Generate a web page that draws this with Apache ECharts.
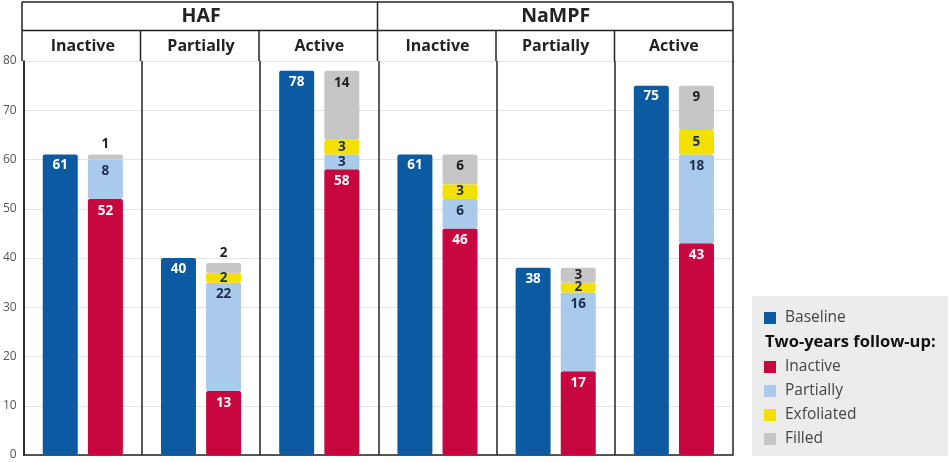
<!DOCTYPE html>
<html><head><meta charset="utf-8">
<script src="https://cdn.jsdelivr.net/npm/echarts@6/dist/echarts.min.js"></script>
<style>html,body{margin:0;padding:0;background:#fff}#c{width:950px;height:462px}</style>
</head><body><div id="c"></div>
<script>
const groups = ['HAF', 'NaMPF'];
const categories = ['Inactive', 'Partially', 'Active', 'Inactive', 'Partially', 'Active'];
const yTicks = [0, 10, 20, 30, 40, 50, 60, 70, 80];
const baseline = [61, 40, 78, 61, 38, 75];
const fuInactive = [52, 13, 58, 46, 17, 43];
const fuPartially = [8, 22, 3, 6, 16, 18];
const fuExfoliated = [0, 2, 3, 3, 2, 5];
const fuFilled = [1, 2, 14, 6, 3, 9];

const FONT = 'Open Sans';
const C = {blue:'#0b5aa2', red:'#c8063f', light:'#a9caeb', yellow:'#f3df00', gray:'#c6c6c6'};
const G = {left:22, right:217, top:61, bottom:7};
const W = 950, H = 462;
const gx0 = G.left, gx1 = W - G.right, gy0 = G.top;
const cw = (gx1 - gx0) / categories.length;

function item(v, stackTop, textColor) {
  let pos = 'insideTop', dist = 5;
  if (v <= 2 && stackTop) { pos = 'top'; dist = 3; }
  else if (v <= 3) { pos = 'inside'; dist = 0; }
  return {value: v, label: {show: v > 0, position: pos, distance: dist,
    color: pos === 'top' ? '#222' : textColor}};
}

const fuSeries = [
  {name:'Inactive', vals:fuInactive, color:C.red, text:'#fff'},
  {name:'Partially', vals:fuPartially, color:C.light, text:'#1b2c4c'},
  {name:'Exfoliated', vals:fuExfoliated, color:C.yellow, text:'#1b2c4c'},
  {name:'Filled', vals:fuFilled, color:C.gray, text:'#222'}
];
const labelFont = {fontFamily:FONT, fontWeight:'bold', fontSize:13.5};

const series = [{
  name:'Baseline', type:'bar', stack:'base', xAxisIndex:0, barWidth:35, barGap:'29%',
  itemStyle:{color:C.blue, borderRadius:2},
  label:Object.assign({show:true, position:'insideTop', distance:4, color:'#fff'}, labelFont),
  data: baseline.map(v => ({value:v, label:{position:'insideTop', distance:4}}))
}];
fuSeries.forEach((s, si) => {
  const data = s.vals.map((v, i) => {
    let top = true;
    for (let k = si + 1; k < fuSeries.length; k++) if (fuSeries[k].vals[i] > 0) top = false;
    return item(v, top, s.text);
  });
  series.push({name:s.name, type:'bar', stack:'fu', xAxisIndex:0, barWidth:35, barGap:'29%',
    itemStyle:{color:s.color, borderRadius:2},
    label:Object.assign({show:true, color:s.text}, labelFont),
    data});
});

const lineStyle = {stroke:'#222', lineWidth:1.5};
const graphics = [
  {type:'rect', shape:{x:752, y:296, width:196, height:160}, style:{fill:'#ececec'}, z:0},
  {type:'text', x:765, y:342, style:{text:'Two-years follow-up:', font:'bold 16.5px "Open Sans"', fill:'#111', textVerticalAlign:'middle'}},
  {type:'line', shape:{x1:gx0, y1:2, x2:gx1, y2:2}, style:lineStyle},
  {type:'line', shape:{x1:gx0, y1:30.5, x2:gx1, y2:30.5}, style:lineStyle},
  {type:'line', shape:{x1:gx0, y1:2, x2:gx0, y2:gy0}, style:lineStyle},
  {type:'line', shape:{x1:gx1, y1:2, x2:gx1, y2:gy0+1}, style:lineStyle},
  {type:'line', shape:{x1:(gx0+gx1)/2, y1:2, x2:(gx0+gx1)/2, y2:gy0}, style:lineStyle}
];
for (let k = 1; k < categories.length; k++) {
  if (k === categories.length / 2) continue;
  const x = gx0 + k * cw;
  graphics.push({type:'line', shape:{x1:x, y1:30.5, x2:x, y2:gy0}, style:lineStyle});
}

const legendText = {fontFamily:FONT, fontSize:15.5, color:'#444', lineHeight:15.5, padding:[0,0,0,4]};
const option = {
  animation:false,
  grid:{left:G.left, right:G.right, top:G.top, bottom:G.bottom, containLabel:false},
  xAxis:[
    {type:'category', data:categories, position:'bottom',
      axisLine:{show:true, lineStyle:{color:'#222', width:1.5}}, axisTick:{show:false}, axisLabel:{show:false},
      splitLine:{show:true, lineStyle:{color:'#222', width:1.5}}},
    {type:'category', data:categories, position:'top',
      axisLine:{show:false}, axisTick:{show:false},
      axisLabel:{show:true, margin:7, fontFamily:FONT, fontWeight:'bold', fontSize:16, color:'#222'}},
    {type:'category', data:groups, position:'top', offset:30,
      axisLine:{show:false}, axisTick:{show:false},
      axisLabel:{show:true, margin:5, fontFamily:FONT, fontWeight:'bold', fontSize:19.5, color:'#222'}}
  ],
  yAxis:{type:'value', min:yTicks[0], max:yTicks[yTicks.length-1], interval:10,
    axisLine:{show:true, lineStyle:{color:'#222', width:1.5}}, axisTick:{show:false},
    axisLabel:{margin:7, fontFamily:FONT, fontSize:12, color:'#555'},
    splitLine:{show:true, lineStyle:{color:'#e4e4e4', width:1}}},
  legend:[
    {data:['Baseline'], left:764, top:310, padding:0, orient:'vertical', icon:'rect', itemWidth:12, itemHeight:12, itemGap:8,
      textStyle:legendText, selectedMode:false},
    {data:['Inactive','Partially','Exfoliated','Filled'], left:764, top:359, padding:0, orient:'vertical', icon:'rect',
      itemWidth:12, itemHeight:12, itemGap:8,
      textStyle:legendText, selectedMode:false}
  ],
  graphic:graphics,
  series
};
const chart = echarts.init(document.getElementById('c'), null, {renderer:'canvas'});
chart.setOption(option);
</script>
</body></html>
